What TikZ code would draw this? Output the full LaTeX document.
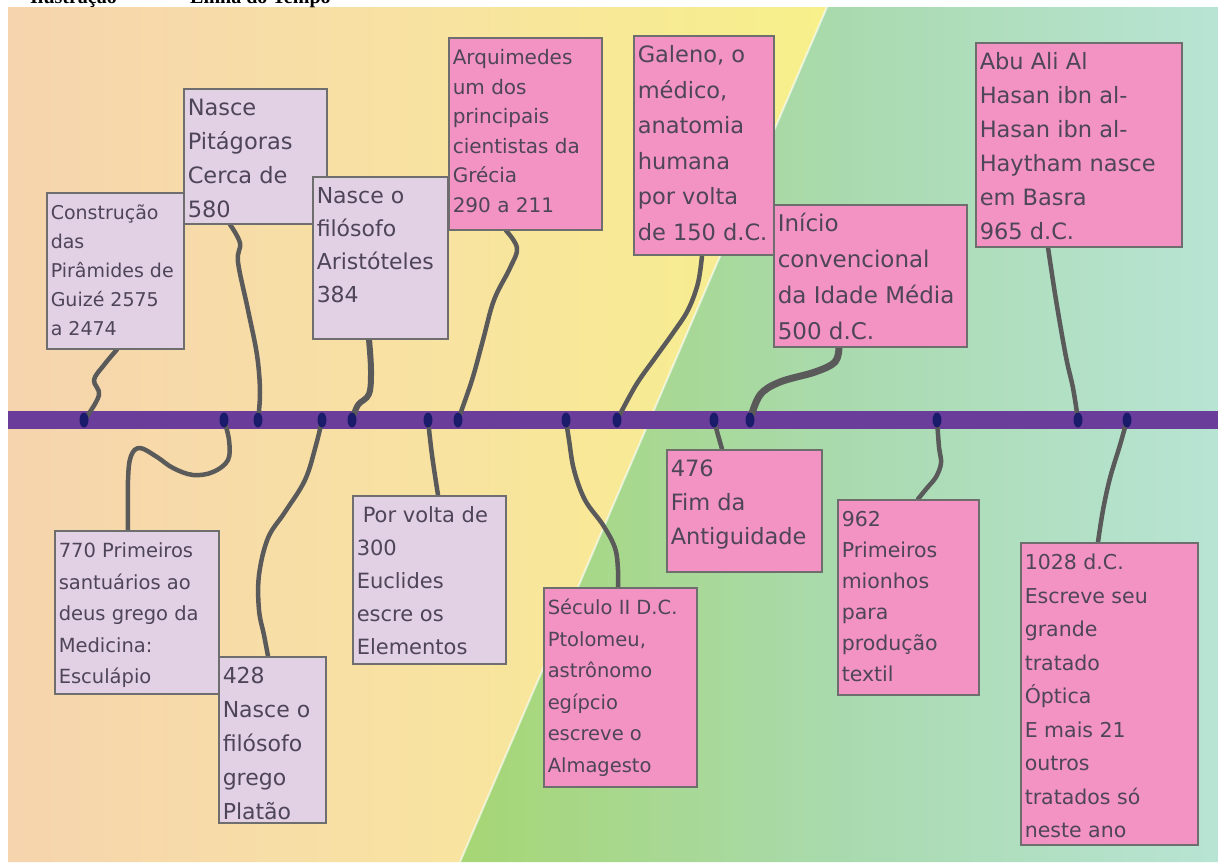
\documentclass[tikz,border=0pt]{standalone}
\usepackage{fontspec}
\setmainfont{DejaVu Sans}
\newfontfamily\capfont{Liberation Serif}
\usetikzlibrary{shapes.geometric,calc}
\pgfdeclarelayer{bg}
\pgfdeclarelayer{lines}
\pgfsetlayers{bg,lines,main}
\definecolor{peach}{HTML}{F6D4AE}
\definecolor{peachmid}{HTML}{F8E2A2}
\definecolor{yel}{HTML}{F7F08A}
\definecolor{grnl}{HTML}{A6D674}
\definecolor{grnm}{HTML}{A9DAAE}
\definecolor{mint}{HTML}{B8E4D4}
\definecolor{barcol}{HTML}{6A3D9A}
\definecolor{dotcol}{HTML}{1B1B6B}
\definecolor{conncol}{HTML}{5A5A5A}
\definecolor{boxline}{HTML}{6E6E6E}
\definecolor{pinkf}{HTML}{F293C4}
\definecolor{lavf}{HTML}{E2D0E4}
\definecolor{txtcol}{HTML}{4E4558}
\newcommand\tlbox[9]{%
  \node[tbox,#6,anchor=north west,minimum width=#4pt,minimum height=#5pt] (#1) at (#2,#3)
  {\parbox[t][#5pt][t]{\dimexpr#4pt-8pt\relax}{\fontsize{#7pt}{#8pt}\selectfont\raggedright\rule{0pt}{27pt}#9}};}
\begin{document}
\begin{tikzpicture}[x=1pt,y=-1pt,
  tbox/.style={rectangle,draw=boxline,line width=1.5pt,inner xsep=4pt,inner ysep=0pt,text=txtcol},
  pinkbox/.style={fill=pinkf},
  lavbox/.style={fill=lavf},
  tdot/.style={ellipse,fill=dotcol,minimum width=9pt,minimum height=15pt,inner sep=0pt},
  conn/.style={draw=conncol,line width=4.5pt,line cap=round,line join=round},
  capt/.style={font=\capfont\bfseries\fontsize{20pt}{22pt}\selectfont,anchor=base west,inner sep=0pt}]
\useasboundingbox (0,0) rectangle (1218,862);

% background
\begin{pgfonlayer}{bg}
\fill[white] (0,0) rectangle (1218,862);
\shade[left color=peach,right color=yel,middle color=peachmid] (8,7) -- (827,7) -- (460,862) -- (8,862) -- cycle;
\shade[left color=grnl,right color=mint,middle color=grnm] (827,7) -- (1218,7) -- (1218,862) -- (460,862) -- cycle;
\draw[white,opacity=0.6,line width=2pt] (827,7) -- (460,862);
\fill[barcol] (8,411) rectangle (1218,429);
\end{pgfonlayer}

% caption (cut off at the top)
\begin{scope}
\clip (0,0) rectangle (1218,862);
\node[capt] (cap1) at (30,3) {Ilustração};
\node[capt] (cap2) at (190,3) {Linha do Tempo};
\end{scope}

% dots on the timeline
\node[tdot] (d1) at (84,420) {};
\node[tdot] (d2) at (224,420) {};
\node[tdot] (d3) at (258,420) {};
\node[tdot] (d4) at (322,420) {};
\node[tdot] (d5) at (352,420) {};
\node[tdot] (d6) at (428,420) {};
\node[tdot] (d7) at (458,420) {};
\node[tdot] (d8) at (566,420) {};
\node[tdot] (d9) at (617,420) {};
\node[tdot] (d10) at (714,420) {};
\node[tdot] (d11) at (750,420) {};
\node[tdot] (d12) at (937,420) {};
\node[tdot] (d13) at (1078,420) {};
\node[tdot] (d14) at (1127,420) {};

% boxes above
\tlbox{b1}{46}{192}{137}{156}{lavbox}{19}{29}{Construção\\das\\Pirâmides de\\Guizé 2575\\a 2474}
\tlbox{b2}{183}{88}{143}{135}{lavbox}{22.5}{34}{Nasce\\Pitágoras\\Cerca de\\580}
\tlbox{b3}{312}{176}{135}{162}{lavbox}{22}{33}{Nasce o\\filósofo\\Aristóteles\\384}
\tlbox{b4}{448}{37}{153}{192}{pinkbox}{20}{29.5}{Arquimedes\\um dos\\principais\\cientistas da\\Grécia\\290 a 211}
\tlbox{b5}{633}{35}{140}{219}{pinkbox}{22.5}{35.5}{Galeno, o\\médico,\\anatomia\\humana\\por volta\\de 150 d.C.}
\tlbox{b6}{773}{204}{193}{142}{pinkbox}{23}{36}{Início\\convencional\\da Idade Média\\500 d.C.}
\tlbox{b7}{975}{42}{206}{204}{pinkbox}{22.5}{34}{Abu Ali Al\\Hasan ibn al-\\Hasan ibn al-\\Haytham nasce\\em Basra\\965 d.C.}
% boxes below
\tlbox{b8}{54}{530}{164}{163}{lavbox}{19.5}{31.5}{770 Primeiros\\santuários ao\\deus grego da\\Medicina:\\Esculápio}
\tlbox{b9}{218}{656}{107}{166}{lavbox}{22}{34}{428\\Nasce o\\filósofo\\grego\\Platão}
\tlbox{b10}{352}{495}{153}{168}{lavbox}{21}{33}{\hspace{6pt}Por volta de\\300\\Euclides\\escre os\\Elementos}
\tlbox{b11}{543}{587}{153}{199}{pinkbox}{19.5}{31.5}{Século II D.C.\\Ptolomeu,\\astrônomo\\egípcio\\escreve o\\Almagesto}
\tlbox{b12}{666}{449}{155}{122}{pinkbox}{22.5}{34}{476\\Fim da\\Antiguidade}
\tlbox{b13}{837}{499}{141}{195}{pinkbox}{20.5}{31}{962\\Primeiros\\mionhos\\para\\produção\\textil}
\tlbox{b14}{1020}{542}{177}{302}{pinkbox}{20.5}{33.5}{1028 d.C.\\Escreve seu\\grande\\tratado\\Óptica\\E mais 21\\outros\\tratados só\\neste ano}

% connector end points on the boxes
\coordinate (o1) at ($(b1.south west)+(71,0)$);
\coordinate (o2) at ($(b2.south west)+(47,0)$);
\coordinate (o3) at ($(b3.south west)+(57,0)$);
\coordinate (o4) at ($(b4.south west)+(58,0)$);
\coordinate (o5) at ($(b5.south west)+(69,0)$);
\coordinate (o6) at ($(b6.south west)+(66,0)$);
\coordinate (o7) at ($(b7.south west)+(73,0)$);
\coordinate (o8) at ($(b8.north west)+(74,0)$);
\coordinate (o9) at ($(b9.north west)+(50,0)$);
\coordinate (o10) at ($(b10.north west)+(86,0)$);
\coordinate (o11) at ($(b11.north west)+(75,0)$);
\coordinate (o12) at ($(b12.north west)+(56,0)$);
\coordinate (o13) at ($(b13.north west)+(81,0)$);
\coordinate (o14) at ($(b14.north west)+(78,0)$);

\begin{pgfonlayer}{lines}
\draw[conn] plot[smooth,tension=0.6] coordinates {(o1) (104,365) (94,380) (99,395) (86,418) (d1.center)};
\draw[conn] plot[smooth,tension=0.6] coordinates {(o2) (240,243) (238,262) (248,310) (257,355) (260,392) (d3.center)};
\draw[conn,line width=6pt] plot[smooth,tension=0.6] coordinates {(o3) (371,370) (369,394) (358,405) (d5.center)};
\draw[conn] plot[smooth,tension=0.6] coordinates {(o4) (517,248) (510,268) (494,300) (483,340) (472,380) (d7.center)};
\draw[conn] plot[smooth,tension=0.6] coordinates {(o5) (698,283) (688,310) (673,333) (655,358) (636,385) (d9.center)};
\draw[conn,line width=7pt] plot[smooth,tension=0.6] coordinates {(o6) (835,362) (815,372) (780,382) (760,395) (d11.center)};
\draw[conn] plot[smooth,tension=0.6] coordinates {(o7) (1056,300) (1066,357) (1073,388) (d13.center)};
\draw[conn] plot[smooth,tension=0.6] coordinates {(d2.center) (229,440) (228,460) (213,472) (193,475) (173,468) (157,457) (140,448) (131,456) (128,480) (o8)};
\draw[conn] plot[smooth,tension=0.6] coordinates {(d4.center) (316,445) (305,480) (285,512) (268,538) (259,575) (259,610) (264,635) (o9)};
\draw[conn] plot[smooth,tension=0.6] coordinates {(d6.center) (432,455) (o10)};
\draw[conn] plot[smooth,tension=0.6] coordinates {(d8.center) (569,440) (574,470) (585,500) (603,525) (615,548) (618,570) (o11)};
\draw[conn] plot[smooth,tension=0.6] coordinates {(d10.center) (718,435) (o12)};
\draw[conn] plot[smooth,tension=0.6] coordinates {(d12.center) (939,447) (941,463) (936,477) (927,488) (o13)};
\draw[conn] plot[smooth,tension=0.6] coordinates {(d14.center) (1120,445) (1110,478) (1103,510) (o14)};
\end{pgfonlayer}
\end{tikzpicture}
\end{document}
